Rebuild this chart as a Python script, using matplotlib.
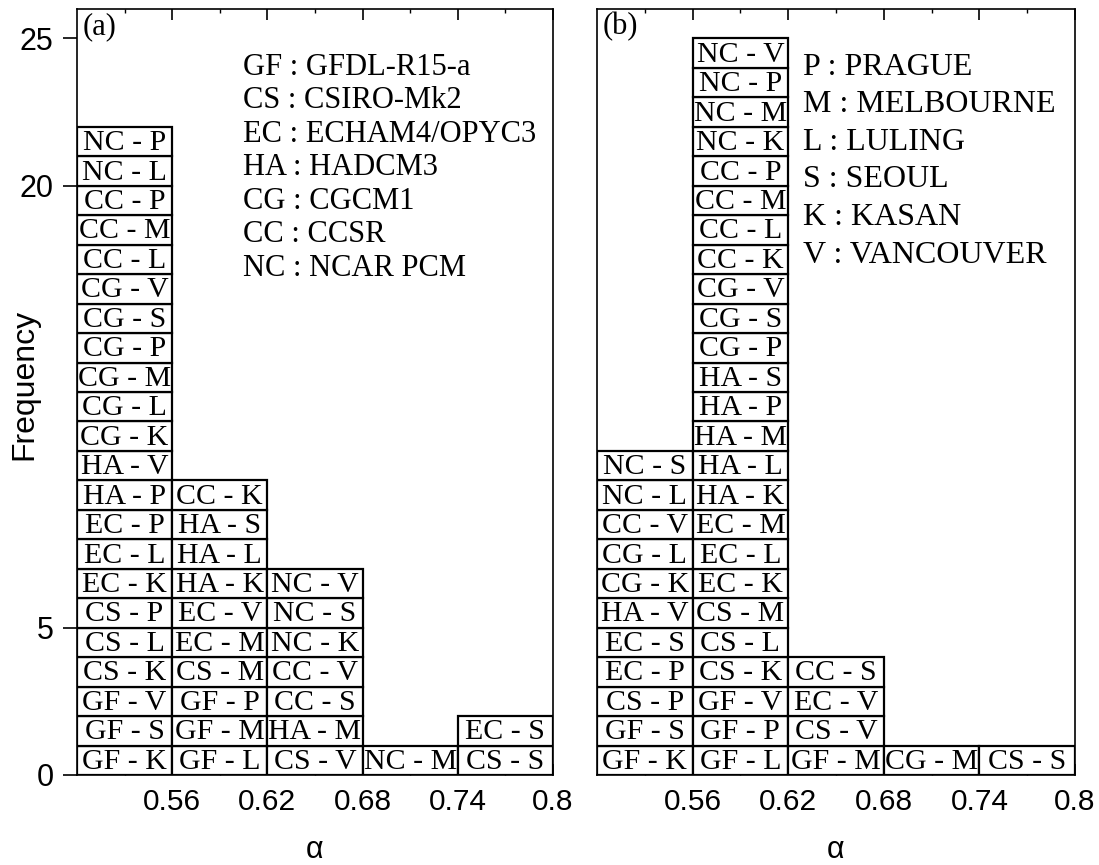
import matplotlib.pyplot as plt
from matplotlib.ticker import FixedLocator

# bin left edges (alpha)
bin_left = [0.50, 0.56, 0.62, 0.68, 0.74]
bin_width = 0.06

# panel (a): model-city pairs stacked in each alpha bin, bottom to top
a_bins = [
    ['GF - K', 'GF - S', 'GF - V', 'CS - K', 'CS - L', 'CS - P', 'EC - K', 'EC - L',
     'EC - P', 'HA - P', 'HA - V', 'CG - K', 'CG - L', 'CG - M', 'CG - P', 'CG - S',
     'CG - V', 'CC - L', 'CC - M', 'CC - P', 'NC - L', 'NC - P'],
    ['GF - L', 'GF - M', 'GF - P', 'CS - M', 'EC - M', 'EC - V', 'HA - K', 'HA - L',
     'HA - S', 'CC - K'],
    ['CS - V', 'HA - M', 'CC - S', 'CC - V', 'NC - K', 'NC - S', 'NC - V'],
    ['NC - M'],
    ['CS - S', 'EC - S'],
]

# panel (b)
b_bins = [
    ['GF - K', 'GF - S', 'CS - P', 'EC - P', 'EC - S', 'HA - V', 'CG - K', 'CG - L',
     'CC - V', 'NC - L', 'NC - S'],
    ['GF - L', 'GF - P', 'GF - V', 'CS - K', 'CS - L', 'CS - M', 'EC - K', 'EC - L',
     'EC - M', 'HA - K', 'HA - L', 'HA - M', 'HA - P', 'HA - S', 'CG - P', 'CG - S',
     'CG - V', 'CC - K', 'CC - L', 'CC - M', 'CC - P', 'NC - K', 'NC - M', 'NC - P',
     'NC - V'],
    ['GF - M', 'CS - V', 'EC - V', 'CC - S'],
    ['CG - M'],
    ['CS - S'],
]

model_key = ['GF : GFDL-R15-a', 'CS : CSIRO-Mk2', 'EC : ECHAM4/OPYC3', 'HA : HADCM3',
             'CG : CGCM1', 'CC : CCSR', 'NC : NCAR PCM']
city_key = ['P : PRAGUE', 'M : MELBOURNE', 'L : LULING', 'S : SEOUL', 'K : KASAN',
            'V : VANCOUVER']

xticks = [0.56, 0.62, 0.68, 0.74, 0.80]
xtick_labels = ['0.56', '0.62', '0.68', '0.74', '0.8']
yticks = [0, 5, 20, 25]

SERIF = 'Liberation Serif'
SANS = 'Liberation Sans'

fig = plt.figure(figsize=(10.99, 8.65), dpi=100)
ax_a = fig.add_axes([77 / 1099, 90 / 865, 476 / 1099, 766 / 865])
ax_b = fig.add_axes([597 / 1099, 90 / 865, 478 / 1099, 766 / 865])


def draw_stacks(ax, bins):
    for left, items in zip(bin_left, bins):
        for i, lab in enumerate(items):
            ax.bar(left, 1, width=bin_width, bottom=i, align='edge', color='white',
                   edgecolor='black', linewidth=1.6, zorder=2)
            ax.text(left + bin_width / 2, i + 0.45, lab, ha='center', va='center',
                    family=SERIF, fontsize=21.5, zorder=3)


def setup(ax, tag):
    ax.set_xlim(0.50, 0.80)
    ax.set_ylim(0, 26)
    ax.xaxis.set_major_locator(FixedLocator(xticks))
    ax.xaxis.set_minor_locator(FixedLocator([0.53, 0.59, 0.65, 0.71, 0.77]))
    ax.set_xticklabels(xtick_labels, family=SANS, fontsize=21.5)
    ax.tick_params(axis='x', which='major', direction='in', length=8, width=1.2,
                   top=True, pad=9)
    ax.tick_params(axis='x', which='minor', direction='in', length=3, width=1,
                   top=True)
    ax.set_xlabel('α', family=SANS, fontsize=22, labelpad=14)
    for s in ax.spines.values():
        s.set_linewidth(1.2)
    ax.text(0.012, 0.996, tag, transform=ax.transAxes, ha='left', va='top',
            family=SERIF, fontsize=22)


draw_stacks(ax_a, a_bins)
draw_stacks(ax_b, b_bins)
setup(ax_a, '(a)')
setup(ax_b, '(b)')

ax_a.set_yticks(yticks)
ax_a.set_yticklabels([str(v) for v in yticks], family=SANS, fontsize=22)
ax_a.tick_params(axis='y', direction='out', length=10, width=1.2, pad=7)
ax_a.set_ylabel('Frequency', family=SANS, fontsize=23)
ax_a.yaxis.set_label_coords(-0.078, 0.51)

ax_b.set_yticks([])

for k, line in enumerate(model_key):
    ax_a.text(0.6046, 24.03 - k * 1.137, line, ha='left', va='center',
              family=SERIF, fontsize=22)
for k, line in enumerate(city_key):
    ax_b.text(0.629, 24.03 - k * 1.276, line, ha='left', va='center',
              family=SERIF, fontsize=23)

fig.savefig('out.png', dpi=100)
